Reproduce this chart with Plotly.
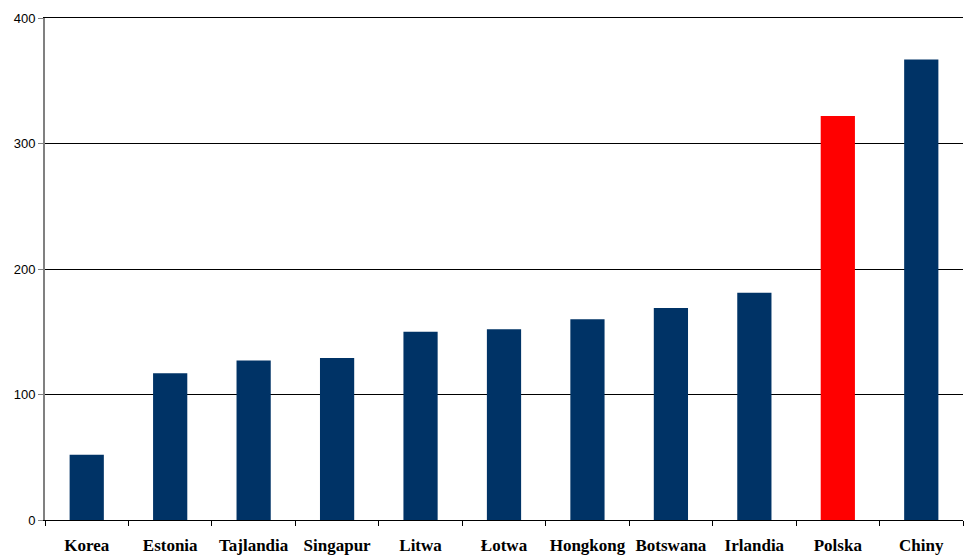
import plotly.graph_objects as go

categories = ["Korea", "Estonia", "Tajlandia", "Singapur", "Litwa", "Łotwa",
              "Hongkong", "Botswana", "Irlandia", "Polska", "Chiny"]
values = [52, 117, 127, 129, 150, 152, 160, 169, 181, 322, 367]
highlight = "Polska"

colors = ["#FF0000" if c == highlight else "#003366" for c in categories]

fig = go.Figure(go.Bar(x=categories, y=values, marker=dict(color=colors, line=dict(width=0)),
                       width=0.41))

fig.update_layout(
    width=971, height=556,
    margin=dict(l=45, r=8, t=18, b=36),
    paper_bgcolor="white", plot_bgcolor="white",
    showlegend=False,
    bargap=0.59,
)
fig.update_yaxes(
    range=[0, 400], tickvals=[0, 100, 200, 300, 400],
    showgrid=True, gridcolor="black", gridwidth=1,
    showline=True, linecolor="#808080", linewidth=2,
    ticks="outside", ticklen=5, tickcolor="#808080",
    tickfont=dict(family="Liberation Sans, Arial", size=13, color="black"),
    zeroline=False, automargin=False,
)
fig.update_xaxes(
    showline=True, linecolor="black", linewidth=1.2, mirror=True,
    ticks="outside", ticklen=5, tickcolor="black", tickson="boundaries",
    tickfont=dict(family="Liberation Serif, Times New Roman", size=17, color="black", weight="bold"),
    tickangle=0,
    ticklabelstandoff=9, automargin=False,
    showgrid=False,
)

fig.write_html("out.html", config={"displayModeBar": False},
               post_script="document.body.style.margin='0';document.body.style.overflow='hidden';")
